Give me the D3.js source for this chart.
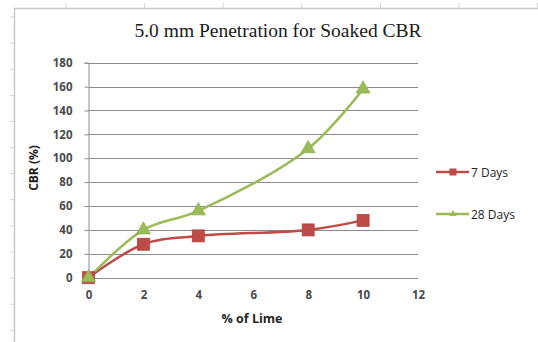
<!DOCTYPE html>
<html>
<head>
<meta charset="utf-8">
<script src="https://cdn.jsdelivr.net/npm/d3@7"></script>
<style>
  html, body { margin: 0; padding: 0; background: #fff; }
  svg { display: block; }
</style>
</head>
<body>
<svg id="chart" width="538" height="342"></svg>
<script>
// Lime content (%) and soaked CBR values at 5.0 mm penetration
const limePct = [0, 2, 4, 8, 10];
const cbr7Days = [0, 28, 35, 40, 48];
const cbr28Days = [0, 40, 56, 108, 158];
const seriesNames = ["7 Days", "28 Days"];
const xTicks = [0, 2, 4, 6, 8, 10, 12];
const yTicks = [0, 20, 40, 60, 80, 100, 120, 140, 160, 180];

const svg = d3.select("#chart");
const red = "#be4b48", green = "#9bbb59";
const sans = "'Open Sans', sans-serif";

// Sheet frame with ruler marks
const frame = svg.append("g");
frame.append("line").attr("x1", 14).attr("x2", 538).attr("y1", 8.5).attr("y2", 8.5)
  .attr("stroke", "#c8c8c8").attr("stroke-width", 1.5);
frame.append("line").attr("x1", 14.5).attr("x2", 14.5).attr("y1", 8).attr("y2", 342)
  .attr("stroke", "#c8c8c8").attr("stroke-width", 1.5);
d3.range(66, 538, 78.6).forEach(x => {
  frame.append("line").attr("x1", x).attr("x2", x).attr("y1", 3).attr("y2", 8)
    .attr("stroke", "#d4d4d4");
});
d3.range(17, 342, 26.1).forEach(y => {
  frame.append("line").attr("x1", 10).attr("x2", 14).attr("y1", y).attr("y2", y)
    .attr("stroke", "#d4d4d4");
});

const x = d3.scaleLinear().domain([0, 12]).range([88.5, 418]);
const y = d3.scaleLinear().domain([0, 180]).range([277.7, 62.7]);

// Horizontal gridlines
svg.append("g").selectAll("line").data(yTicks).join("line")
  .attr("x1", x(0)).attr("x2", x(12))
  .attr("y1", d => Math.round(y(d)) + 0.5).attr("y2", d => Math.round(y(d)) + 0.5)
  .attr("stroke", "#8c8c8c").attr("stroke-width", 1);

// Y axis
const yAxis = svg.append("g").attr("transform", `translate(${x(0)},0)`)
  .call(d3.axisLeft(y).tickValues(yTicks).tickSize(4).tickPadding(12));
yAxis.select(".domain").attr("stroke", "#8c8c8c");
yAxis.selectAll(".tick line").attr("stroke", "#8c8c8c");
yAxis.selectAll("text").attr("font-family", sans)
  .attr("font-weight", "bold").attr("font-size", 11.5).attr("fill", "#4a4a4a");

// X axis
const xAxis = svg.append("g").attr("transform", `translate(0,${y(0)})`)
  .call(d3.axisBottom(x).tickValues(xTicks).tickSize(0).tickPadding(13));
xAxis.select(".domain").remove();
xAxis.selectAll("text").attr("font-family", sans)
  .attr("font-weight", "bold").attr("font-size", 11.5).attr("fill", "#4a4a4a");

// Titles
svg.append("text").attr("x", 278).attr("y", 37).attr("text-anchor", "middle")
  .attr("font-family", "'Liberation Serif', serif").attr("font-size", 19.5)
  .attr("fill", "#1a1a1a").text("5.0 mm Penetration for Soaked CBR");
svg.append("text").attr("x", 252).attr("y", 323).attr("text-anchor", "middle")
  .attr("font-family", sans).attr("font-weight", "bold")
  .attr("font-size", 12.5).attr("fill", "#1f1f1f").text("% of Lime");
svg.append("text").attr("transform", "translate(38,168) rotate(-90)")
  .attr("text-anchor", "middle")
  .attr("font-family", sans).attr("font-weight", "bold")
  .attr("font-size", 12).attr("fill", "#1f1f1f").text("CBR (%)");

// Smoothed series lines
const line = d3.line().x(d => x(d[0])).y(d => y(d[1])).curve(d3.curveCatmullRom.alpha(0.5));
const s7 = limePct.map((v, i) => [v, cbr7Days[i]]);
const s28 = limePct.map((v, i) => [v, cbr28Days[i]]);

svg.append("path").datum(s7).attr("d", line).attr("fill", "none")
  .attr("stroke", red).attr("stroke-width", 2.5);
svg.append("path").datum(s28).attr("d", line).attr("fill", "none")
  .attr("stroke", green).attr("stroke-width", 2.5);

// Markers
const sq = 12;
svg.append("g").selectAll("rect").data(s7).join("rect")
  .attr("x", d => x(d[0]) - sq / 2).attr("y", d => y(d[1]) - sq / 2)
  .attr("width", sq).attr("height", sq)
  .attr("fill", red).attr("stroke", "#b04340").attr("stroke-width", 0.8);

const tri = d3.symbol().type(d3.symbolTriangle).size(85);
svg.append("g").selectAll("path").data(s28).join("path")
  .attr("transform", d => `translate(${x(d[0])},${y(d[1])})`)
  .attr("d", tri).attr("fill", green).attr("stroke", "#90b04f").attr("stroke-width", 0.8);

// Legend
const legend = svg.append("g");
const legendRows = [
  { name: seriesNames[0], color: red, y: 172, marker: "square" },
  { name: seriesNames[1], color: green, y: 214, marker: "triangle" }
];
legendRows.forEach(r => {
  legend.append("line").attr("x1", 436).attr("x2", 469).attr("y1", r.y).attr("y2", r.y)
    .attr("stroke", r.color).attr("stroke-width", 2.5);
  if (r.marker === "square") {
    legend.append("rect").attr("x", 449.5).attr("y", r.y - 3.5).attr("width", 7).attr("height", 7)
      .attr("fill", r.color);
  } else {
    legend.append("path").attr("transform", `translate(453,${r.y})`)
      .attr("d", d3.symbol().type(d3.symbolTriangle).size(22)).attr("fill", r.color);
  }
  legend.append("text").attr("x", 471).attr("y", r.y + 4.5)
    .attr("font-family", sans).attr("font-size", 12)
    .attr("fill", "#262626").text(r.name);
});
</script>
</body>
</html>
